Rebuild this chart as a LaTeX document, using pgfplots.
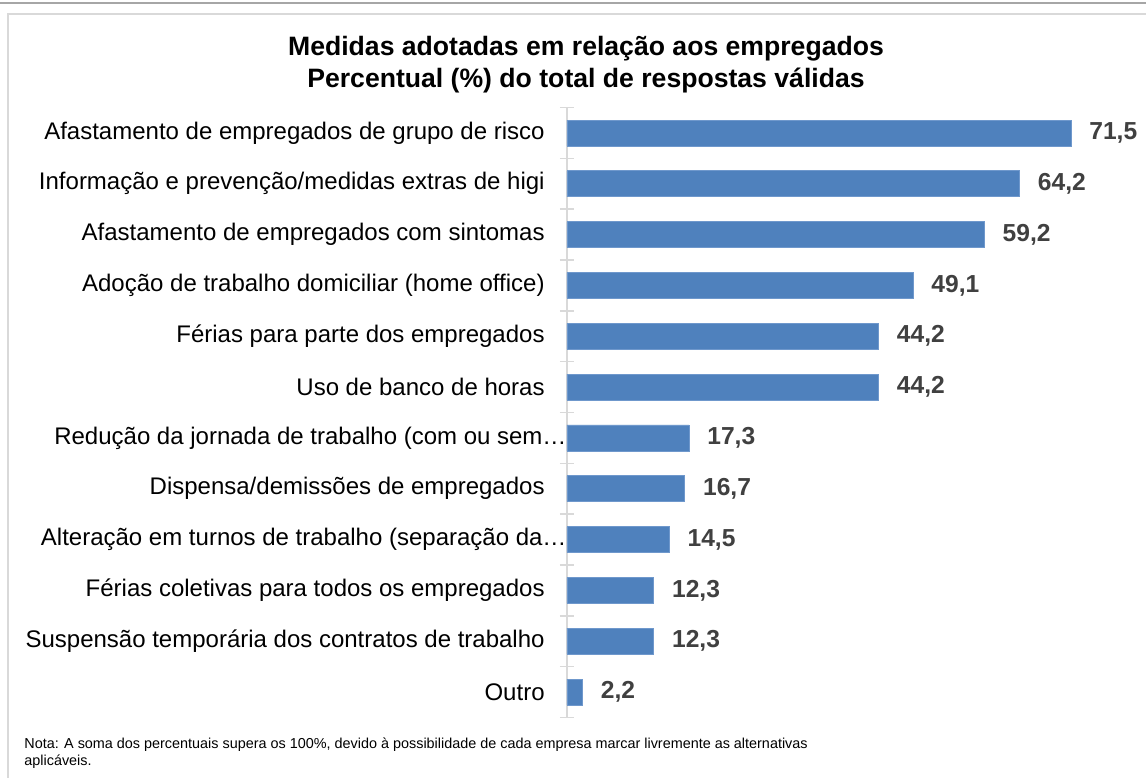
\documentclass[border=0pt]{standalone}
\usepackage{pgfplots}
\pgfplotsset{compat=1.18}
\usepackage{fontspec}
\setmainfont{Liberation Sans}
\definecolor{barblue}{HTML}{4F81BD}
\definecolor{baredge}{HTML}{6F98CC}
\definecolor{axisgray}{HTML}{D9D9D9}
\definecolor{valgray}{HTML}{404040}
\definecolor{framegray}{HTML}{A6A6A6}
\begin{document}
\begin{tikzpicture}
\useasboundingbox (0,0) rectangle (573pt,389pt);
\fill[white] (0,0) rectangle (573pt,389pt);
\draw[color=framegray, line width=1.1pt] (0,387.3pt) -- (573pt,387.3pt);
\draw[color=axisgray, line width=0.6pt] (573pt,382pt) -- (4pt,382pt) -- (4pt,0pt);
\node[font=\fontsize{13.3}{16}\selectfont\bfseries, align=center] at (293pt,356.5pt)
  {Medidas adotadas em relação aos empregados\\Percentual (\%) do total de respostas válidas};
\node[anchor=base west, inner sep=0pt, font=\fontsize{7.2}{8.5}\selectfont] at (12pt,15pt)
  {Nota: A soma dos percentuais supera os 100\%, devido à possibilidade de cada empresa marcar livremente as alternativas};
\node[anchor=base west, inner sep=0pt, font=\fontsize{7.2}{8.5}\selectfont] at (12pt,6.5pt)
  {aplicáveis.};
\begin{axis}[
  at={(283.5pt,30.3pt)}, anchor=south west,
  scale only axis, width=289pt, height=304.9pt,
  xbar, bar width=13pt,
  xmin=0, xmax=82, ymin=-0.5, ymax=11.5,
  y dir=reverse,
  axis y line*=left, axis x line=none,
  y axis line style={color=axisgray, line width=0.8pt},
  xtick=\empty,
  ytick={0,...,11},
  minor ytick={-0.5,0.5,...,11.5},
  major tick length=0pt, minor tick length=7pt,
  tick align=center,
  every minor tick/.style={color=axisgray, line width=0.8pt},
  yticklabels={
    Afastamento de empregados de grupo de risco,
    Informação e prevenção/medidas extras de higi,
    Afastamento de empregados com sintomas,
    Adoção de trabalho domiciliar (home office),
    Férias para parte dos empregados,
    Uso de banco de horas,
    Redução da jornada de trabalho (com ou sem…\kern-11pt,
    Dispensa/demissões de empregados,
    Alteração em turnos de trabalho (separação da…\kern-11pt,
    Férias coletivas para todos os empregados,
    Suspensão temporária dos contratos de trabalho,
    Outro},
  yticklabel style={font=\fontsize{12}{14}\selectfont, anchor=east, inner sep=0pt, xshift=-11pt, text=black},
  /pgf/number format/assume math mode=true,
  point meta=x,
  nodes near coords={\pgfmathprintnumber[fixed, fixed zerofill, precision=1, use comma]{\pgfplotspointmeta}},
  every node near coord/.append style={font=\fontsize{12.3}{14}\selectfont\bfseries, text=valgray, anchor=west, inner sep=0pt, xshift=9pt},
  clip=false,
]
\addplot[fill=barblue, draw=baredge, line width=0.4pt] coordinates {
  (71.5,0) (64.2,1) (59.2,2) (49.1,3) (44.2,4) (44.2,5)
  (17.3,6) (16.7,7) (14.5,8) (12.3,9) (12.3,10) (2.2,11)};
\end{axis}
\end{tikzpicture}
\end{document}
